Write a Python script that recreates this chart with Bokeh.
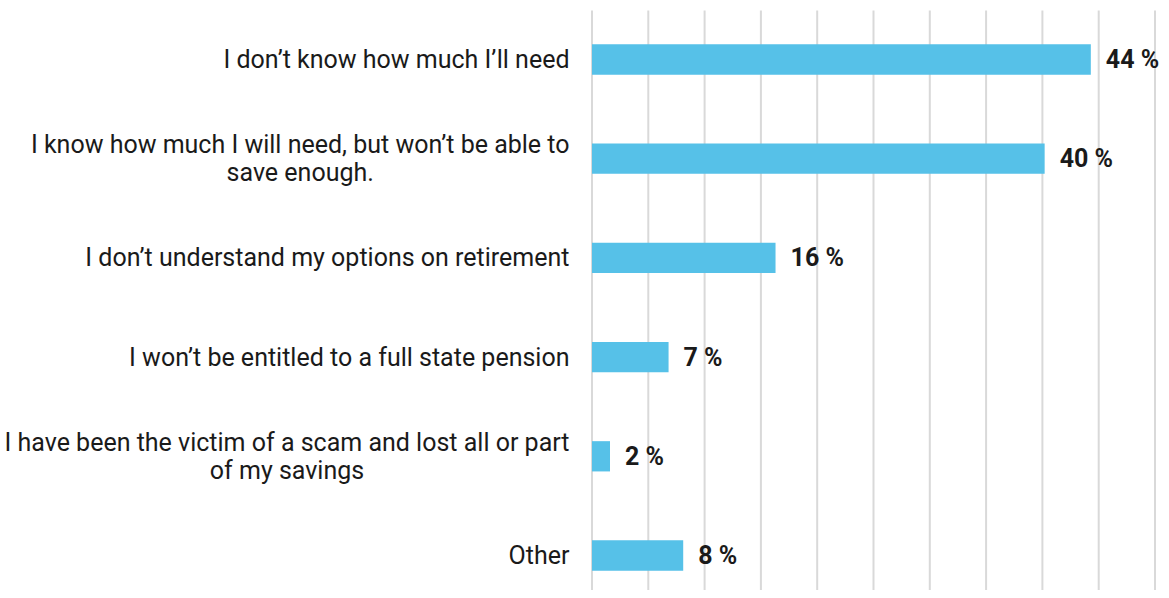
from bokeh.plotting import figure
from bokeh.models import Range1d, ColumnDataSource
from bokeh.core.properties import value
from bokeh.embed import file_html
from bokeh.resources import INLINE

categories = [
    "I don\u2019t know how much I\u2019ll need",
    "I know how much I will need, but won\u2019t be able to\nsave enough.",
    "I don\u2019t understand my options on retirement",
    "I won\u2019t be entitled to a full state pension",
    "I have been the victim of a scam and lost all or part\nof my savings",
    "Other",
]
values = [44.3, 40.2, 16.3, 6.8, 1.6, 8.1]
value_labels = ["44 %", "40 %", "16 %", "7 %", "2 %", "8 %"]
grid_ticks = [0, 5, 10, 15, 20, 25, 30, 35, 40, 45, 50]

BAR = "#56C1E8"
GRID = "#D9D9D9"
TEXT = "#1A1A1A"
FONT = "Roboto"

pos = list(range(len(categories)))

W, H = 1160, 590
x0_px, px_per_unit = 591.5, 11.26
y0_px, px_per_cat = 59.0, 99.2

p = figure(
    width=W, height=H,
    x_range=Range1d(-x0_px / px_per_unit, (W - x0_px) / px_per_unit),
    y_range=Range1d((H - y0_px) / px_per_cat, -y0_px / px_per_cat),
    output_backend="svg", toolbar_location=None,
    min_border=0, min_border_left=0, min_border_right=0,
    min_border_top=0, min_border_bottom=0,
)
p.axis.visible = False
p.grid.visible = False
p.outline_line_color = None
p.background_fill_color = "white"
p.border_fill_color = "white"

# vertical gridlines
p.segment(x0=grid_ticks, x1=grid_ticks,
          y0=[-0.494] * len(grid_ticks), y1=[6.0] * len(grid_ticks),
          line_color=GRID, line_width=2)

src = ColumnDataSource(dict(y=pos, v=values, lab=value_labels, cat=categories,
                            x0=[0] * len(pos), lx=[-22.5 / px_per_unit] * len(pos)))

p.hbar(y="y", left="x0", right="v", height=0.305, source=src,
       fill_color=BAR, line_color=None)

p.text(x="v", y="y", text="lab", source=src, x_offset=15,
       text_align="left", text_baseline="middle",
       text_font=value(FONT), text_font_style="bold",
       text_font_size="25px", text_color=TEXT)

p.text(x="lx", y="y", text="cat", source=src,
       text_align="center", anchor="center_right", text_baseline="middle",
       text_font=value(FONT), text_font_size="25px", text_color=TEXT,
       text_line_height=0.955)

open("out.html", "w").write(file_html(p, INLINE))
